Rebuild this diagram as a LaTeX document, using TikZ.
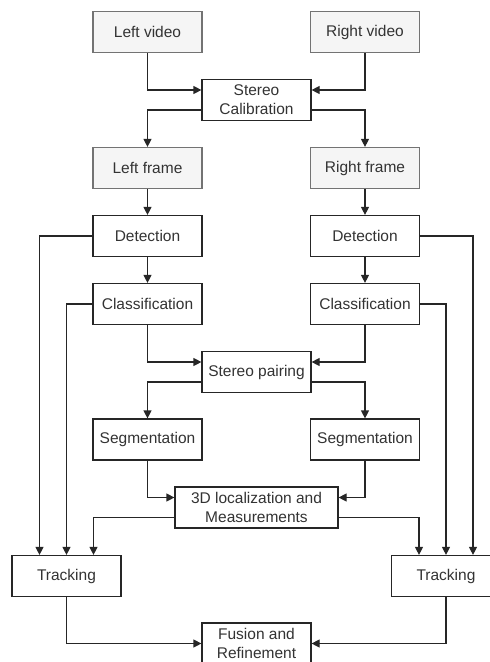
\documentclass[tikz,border=0pt]{standalone}
\usepackage{fontspec}
\setmainfont{Liberation Sans}
\usetikzlibrary{arrows.meta}

\begin{document}
\begin{tikzpicture}[x=1pt,y=-1pt,font=\fontsize{15.5}{19}\selectfont,
  box/.style={draw=black!85,line width=1.2pt,fill=white,text=black!80,minimum width=109pt,minimum height=41pt,inner sep=1pt,align=center},
  src/.style={box,draw=black!55,fill=black!4},
  arr/.style={draw=black!85,line width=1.2pt,-{Triangle[length=8pt,width=8pt]}}]
\useasboundingbox (0,0) rectangle (490,662);
\node[src] (lvid) at (147.5,32) {Left video};
\node[src] (rvid) at (365,32) {Right video};
\node[box] (calib) at (256.5,100) {Stereo\\Calibration};
\node[src] (lfr) at (147.5,168) {Left frame};
\node[src] (rfr) at (365,168) {Right frame};
\node[box] (ldet) at (147.5,236) {Detection};
\node[box] (rdet) at (365,236) {Detection};
\node[box] (lcls) at (147.5,304) {Classification};
\node[box] (rcls) at (365,304) {Classification};
\node[box] (pair) at (256.5,372) {Stereo pairing};
\node[box] (lseg) at (147.5,439.5) {Segmentation};
\node[box] (rseg) at (365,439.5) {Segmentation};
\node[box,minimum width=163pt] (loc) at (256.5,507.5) {3D localization and\\Measurements};
\node[box] (ltrk) at (66.5,576) {Tracking};
\node[box] (rtrk) at (446,576) {Tracking};
\node[box] (fus) at (256.5,643.5) {Fusion and\\Refinement};
\draw[arr] (lvid.south) |- ([yshift=10]calib.west);
\draw[arr] (rvid.south) |- ([yshift=10]calib.east);
\draw[arr] ([yshift=-10]calib.west) -| (lfr.north);
\draw[arr] ([yshift=-10]calib.east) -| (rfr.north);
\draw[arr] (lfr) -- (ldet);
\draw[arr] (rfr) -- (rdet);
\draw[arr] (ldet) -- (lcls);
\draw[arr] (rdet) -- (rcls);
\draw[arr] (lcls.south) |- ([yshift=10]pair.west);
\draw[arr] (rcls.south) |- ([yshift=10]pair.east);
\draw[arr] ([yshift=-10]pair.west) -| (lseg.north);
\draw[arr] ([yshift=-10]pair.east) -| (rseg.north);
\draw[arr] (lseg.south) |- ([yshift=10]loc.west);
\draw[arr] (rseg.south) |- ([yshift=10]loc.east);
\draw[arr] (ldet.west) -| ([xshift=-27]ltrk.north);
\draw[arr] (lcls.west) -| (ltrk.north);
\draw[arr] ([yshift=-10]loc.west) -| ([xshift=27]ltrk.north);
\draw[arr] (rdet.east) -| ([xshift=27]rtrk.north);
\draw[arr] (rcls.east) -| (rtrk.north);
\draw[arr] ([yshift=-10]loc.east) -| ([xshift=-27]rtrk.north);
\draw[arr] (ltrk.south) |- (fus.west);
\draw[arr] (rtrk.south) |- (fus.east);
\end{tikzpicture}
\end{document}
